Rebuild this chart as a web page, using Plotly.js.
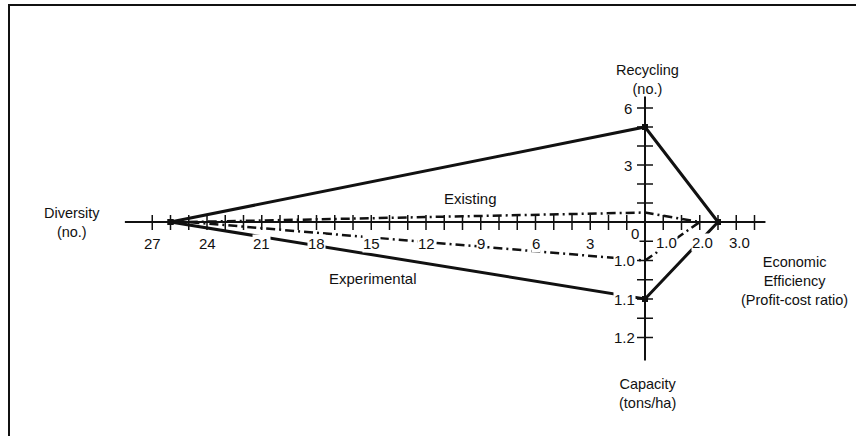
<!DOCTYPE html>
<html>
<head>
<meta charset="utf-8">
<script src="https://cdn.plot.ly/plotly-3.0.1.min.js"></script>
<style>html,body{margin:0;padding:0;background:#fff;}#chart{width:856px;height:436px;}</style>
</head>
<body>
<div id="chart"></div>
<script>
// ---- data ----
const axisNames = ['Diversity', 'Recycling', 'Economic Efficiency', 'Capacity'];
const experimental = [26, 5, 2.5, 1.1];
const existing = [25, 0.5, 2.0, 1.0];
const diversityTicks = [0,1,2,3,4,5,6,7,8,9,10,11,12,13,14,15,16,17,18,19,20,21,22,23,24,25,26,27];
const diversityLabels = [27, 24, 21, 18, 15, 12, 9, 6, 3, 0];
const recyclingTicks = [1, 2, 3, 4, 5, 6];
const recyclingLabels = [6, 3];
const efficiencyTicks = [1.0, 1.5, 2.0, 2.5, 3.0, 3.5];
const efficiencyLabels = ['1.0', '2.0', '3.0'];
const capacityTicks = [0.95, 1.0, 1.05, 1.1, 1.15, 1.2];
const capacityLabels = ['1.0', '1.1', '1.2'];

// ---- diagram geometry (positions/scales of the four radial axes) ----
const O = {x: 645, y: 222};
const scale = {
  diversity:  v => ({x: O.x - v * 18.25, y: O.y}),
  recycling:  v => ({x: O.x, y: O.y - v * 19}),
  efficiency: v => ({x: O.x + (v - 0.5) * 36.5, y: O.y}),
  capacity:   v => ({x: O.x, y: O.y + (v - 0.9) * 385})
};
const order = ['diversity', 'recycling', 'efficiency', 'capacity'];

function polygon(vals) {
  const pts = vals.map((v, i) => scale[order[i]](v));
  pts.push(pts[0]);
  return {x: pts.map(p => p.x), y: pts.map(p => p.y)};
}

const traces = [];
const ink = '#111';

// axis lines
const hL = scale.diversity(28.5), hR = scale.efficiency(3.8);
const vT = scale.recycling(6.6), vB = scale.capacity(1.26);
traces.push({x: [hL.x, hR.x, null, vT.x, vB.x], y: [hL.y, hR.y, null, vT.y, vB.y],
  mode: 'lines', line: {color: ink, width: 2}, hoverinfo: 'skip'});

// ticks
const tx = [], ty = [];
diversityTicks.forEach(v => { const p = scale.diversity(v); if (v === 0) return; tx.push(p.x, p.x, null); ty.push(p.y - 7, p.y + 8, null); });
efficiencyTicks.forEach(v => { const p = scale.efficiency(v); tx.push(p.x, p.x, null); ty.push(p.y - 7, p.y + 8, null); });
recyclingTicks.forEach(v => { const p = scale.recycling(v); tx.push(p.x - 8, p.x + 8, null); ty.push(p.y, p.y, null); });
capacityTicks.forEach(v => { const p = scale.capacity(v); tx.push(p.x - 8, p.x + 8, null); ty.push(p.y, p.y, null); });
traces.push({x: tx, y: ty, mode: 'lines', line: {color: ink, width: 1.5}, hoverinfo: 'skip'});

// polygons
const pe = polygon(existing);
traces.push({x: pe.x, y: pe.y, mode: 'lines', name: 'Existing',
  line: {color: ink, width: 2.5, dash: '9px,4px,2px,4px'}, hoverinfo: 'skip'});
const px = polygon(experimental);
traces.push({x: px.x, y: px.y, mode: 'lines+markers', name: 'Experimental',
  line: {color: ink, width: 3}, marker: {color: ink, size: 6, symbol: 'square'}, hoverinfo: 'skip'});

// tick labels
const ann = [];
const tickFont = {family: 'Liberation Sans, Arial, sans-serif', size: 15, color: ink};
const titleFont = {family: 'Liberation Sans, Arial, sans-serif', size: 14.5, color: ink};
function lab(p, text, dx, dy, xa) {
  ann.push({x: p.x, y: p.y, xref: 'x', yref: 'y', text: String(text), showarrow: false,
    xshift: dx, yshift: dy, xanchor: xa || 'center', yanchor: 'middle', font: tickFont,
    bgcolor: '#fff', borderpad: 0});
}
diversityLabels.forEach(v => {
  const p = scale.diversity(v);
  if (v === 0) lab(p, v, -10, -11); else lab(p, v, 0, -21);
});
efficiencyLabels.forEach(v => lab(scale.efficiency(parseFloat(v)), v, 3, -20));
capacityLabels.forEach(v => lab(scale.capacity(parseFloat(v)), v, -9, 0, 'right'));
recyclingLabels.forEach(v => lab(scale.recycling(v), v, -12, 0, 'right'));

// axis titles
function ttl(x, y, text, xa) {
  ann.push({x: x, y: y, xref: 'x', yref: 'y', text: text, showarrow: false,
    xanchor: xa || 'center', yanchor: 'middle', align: 'center', font: titleFont});
}
ttl(72, 222, 'Diversity<br>(no.)');
ttl(647, 79, 'Recycling<br>(no.)');
ttl(794, 281, 'Economic<br>Efficiency<br>(Profit-cost ratio)');
ttl(648, 393, 'Capacity<br>(tons/ha)');
ann.push({x: 470, y: 198, xref: 'x', yref: 'y', text: 'Existing', showarrow: false, font: {family: titleFont.family, size: 15, color: ink}});
ann.push({x: 373, y: 278, xref: 'x', yref: 'y', text: 'Experimental', showarrow: false, font: {family: titleFont.family, size: 15, color: ink}});

const layout = {
  width: 856, height: 436,
  margin: {l: 0, r: 0, t: 0, b: 0},
  paper_bgcolor: '#fff', plot_bgcolor: '#fff',
  showlegend: false,
  xaxis: {range: [0, 856], visible: false, fixedrange: true},
  yaxis: {range: [436, 0], visible: false, fixedrange: true},
  annotations: ann,
  shapes: [{type: 'rect', xref: 'x', yref: 'y', x0: 9, y0: 5, x1: 900, y1: 480,
    line: {color: ink, width: 2}, fillcolor: 'rgba(0,0,0,0)'}]
};
Plotly.newPlot('chart', traces, layout, {displayModeBar: false, staticPlot: true});
</script>
</body>
</html>
